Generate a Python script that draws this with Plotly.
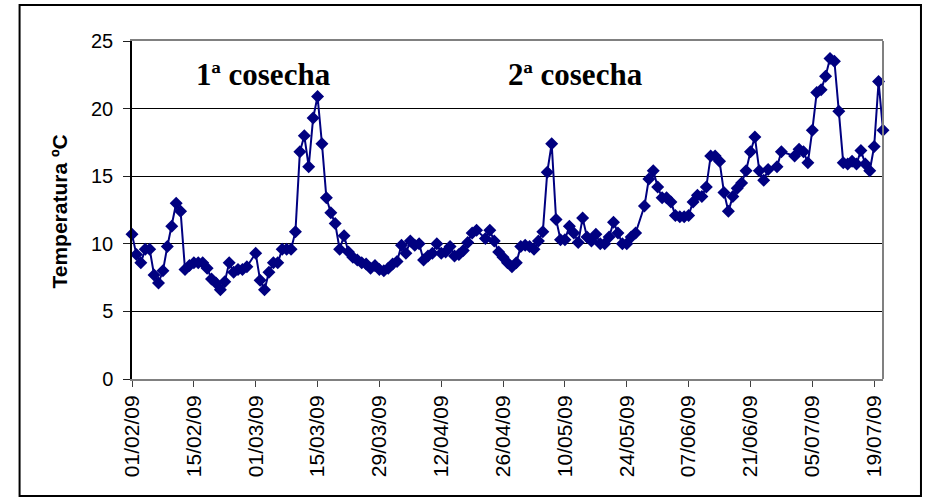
import plotly.graph_objects as go

# daily mean temperature, 2009 (days without a reading are simply not listed)
dias_feb = [1, 2, 3, 4, 5, 6, 7, 8, 9, 10, 11, 12, 13, 14, 15, 16, 17, 18, 19, 20,
            21, 22, 23, 24, 25, 26, 27]
temp_feb = [10.7, 9.2, 8.6, 9.6, 9.6, 7.7, 7.1, 8.0, 9.8, 11.3, 13.0, 12.4, 8.1, 8.4,
            8.6, 8.6, 8.6, 8.2, 7.4, 7.1, 6.6, 7.2, 8.6, 7.9, 8.1, 8.1, 8.3]

dias_mar = [1, 2, 3, 4, 5, 6, 7, 8, 9, 10, 11, 12, 13, 14, 15, 16, 17, 18, 19, 20,
            21, 22, 23, 24, 25, 26, 27, 28, 29, 30, 31]
temp_mar = [9.3, 7.3, 6.6, 7.9, 8.6, 8.6, 9.6, 9.6, 9.6, 10.9, 16.8, 18.0, 15.7, 19.3,
            20.9, 17.4, 13.4, 12.3, 11.5, 9.6, 10.6, 9.4, 9.0, 8.8, 8.6, 8.5, 8.2, 8.4,
            8.1, 8.0, 8.2]

dias_abr = [1, 2, 3, 4, 5, 6, 7, 8, 9, 10, 11, 12, 13, 14, 15, 16, 17, 18, 19, 20,
            22, 23, 24, 25, 26, 27, 28, 29, 30]
temp_abr = [8.5, 8.7, 9.9, 9.3, 10.2, 9.9, 10.0, 8.8, 9.1, 9.3, 10.0, 9.3, 9.4, 9.8,
            9.1, 9.2, 9.5, 10.1, 10.8, 11.0, 10.4, 11.0, 10.2, 9.4, 9.0, 8.6, 8.3, 8.6,
            9.8]

dias_may = [1, 2, 3, 4, 5, 6, 7, 8, 9, 10, 11, 12, 13, 14, 15, 16, 17, 18, 19, 20,
            21, 22, 23, 24, 25, 26, 28, 29, 30, 31]
temp_may = [9.9, 9.8, 9.6, 10.2, 10.9, 15.3, 17.4, 11.8, 10.3, 10.3, 11.3, 10.8, 10.1,
            11.9, 10.5, 10.2, 10.7, 10.0, 10.0, 10.5, 11.6, 10.8, 10.0, 10.0, 10.5, 10.8,
            12.8, 14.8, 15.4, 14.2]

dias_jun = [1, 2, 3, 4, 5, 6, 7, 8, 9, 10, 11, 12, 13, 14, 15, 16, 17, 18, 19, 20,
            21, 22, 23, 24, 25, 27, 28]
temp_jun = [13.4, 13.4, 13.1, 12.1, 12.0, 12.0, 12.1, 13.1, 13.6, 13.5, 14.2, 16.5,
            16.5, 16.1, 13.8, 12.4, 13.5, 14.1, 14.5, 15.4, 16.8, 17.9, 15.4, 14.7,
            15.5, 15.7, 16.8]

dias_jul = [1, 2, 3, 4, 5, 6, 7, 8, 9, 10, 11, 12, 13, 14, 15, 16, 17, 18, 19, 20, 21]
temp_jul = [16.5, 17.0, 16.8, 16.0, 18.4, 21.2, 21.4, 22.4, 23.7, 23.5, 19.8, 16.0,
            15.9, 16.1, 15.9, 16.9, 15.9, 15.4, 17.2, 22.0, 18.4]

meses = [(2, dias_feb, temp_feb), (3, dias_mar, temp_mar), (4, dias_abr, temp_abr),
         (5, dias_may, temp_may), (6, dias_jun, temp_jun), (7, dias_jul, temp_jul)]

fechas, temperatura = [], []
for mes, dias, temps in meses:
    fechas += [f"2009-{mes:02d}-{d:02d}" for d in dias]
    temperatura += temps

etiquetas = ["1ª cosecha", "2ª cosecha"]

W, H = 926, 500
L, R, T, B = 131.5, 43, 41, 121
pw, ph = W - L - R, H - T - B


def px(x):
    return (x - L) / pw


def py(y):
    return (H - B - y) / ph


azul = "#000080"
fig = go.Figure()
fig.add_trace(go.Scatter(
    x=fechas, y=temperatura, mode="lines+markers",
    line=dict(color=azul, width=2),
    marker=dict(symbol="diamond", size=10, color=azul),
    cliponaxis=False, showlegend=False,
))

fig.update_layout(
    width=W, height=H,
    margin=dict(l=L, r=R, t=T, b=B),
    paper_bgcolor="white", plot_bgcolor="white",
    font=dict(family="Liberation Sans, Arial", color="black"),
    showlegend=False,
)
fig.update_xaxes(
    type="date", range=["2009-02-01", "2009-07-21"],
    tick0="2009-02-01", dtick=14 * 86400000, tickformat="%d/%m/%y",
    tickangle=-90, tickfont=dict(size=21),
    ticks="outside", ticklen=6, tickcolor="#404040",
    showgrid=False, showline=True, linecolor="#808080", linewidth=2, mirror=True,
    zeroline=False,
)
fig.update_yaxes(
    range=[0, 25], dtick=5, tickfont=dict(size=20),
    ticks="outside", ticklen=7, tickcolor="#202020", ticklabelstandoff=6,
    showgrid=True, gridcolor="black", gridwidth=1,
    showline=True, linecolor="black", linewidth=1.5, mirror=False,
    zeroline=False,
)

# right border of the plot area (grey) and outer chart frame
fig.add_shape(type="line", xref="paper", yref="paper", x0=1, x1=1, y0=0, y1=1,
              line=dict(color="#808080", width=2))
fig.add_shape(type="rect", xref="paper", yref="paper",
              x0=px(19), x1=px(921), y0=py(496), y1=py(5),
              line=dict(color="black", width=2))

fig.add_annotation(text="<b>Temperatura ºC</b>", xref="paper", yref="paper",
                   x=px(58), y=py(212), xanchor="center", yanchor="middle",
                   textangle=-90, showarrow=False,
                   font=dict(size=21, family="Liberation Sans, Arial"))

for texto, cx in zip(etiquetas, [263, 575]):
    fig.add_annotation(text=f"<b>{texto}</b>", xref="paper", yref="paper",
                       x=px(cx), y=py(75), xanchor="center", yanchor="middle",
                       showarrow=False,
                       font=dict(size=31, family="Liberation Serif, Times New Roman"))

fig.write_html("out.html", config={"displayModeBar": False},
               post_script="document.body.style.margin = '0px';")
